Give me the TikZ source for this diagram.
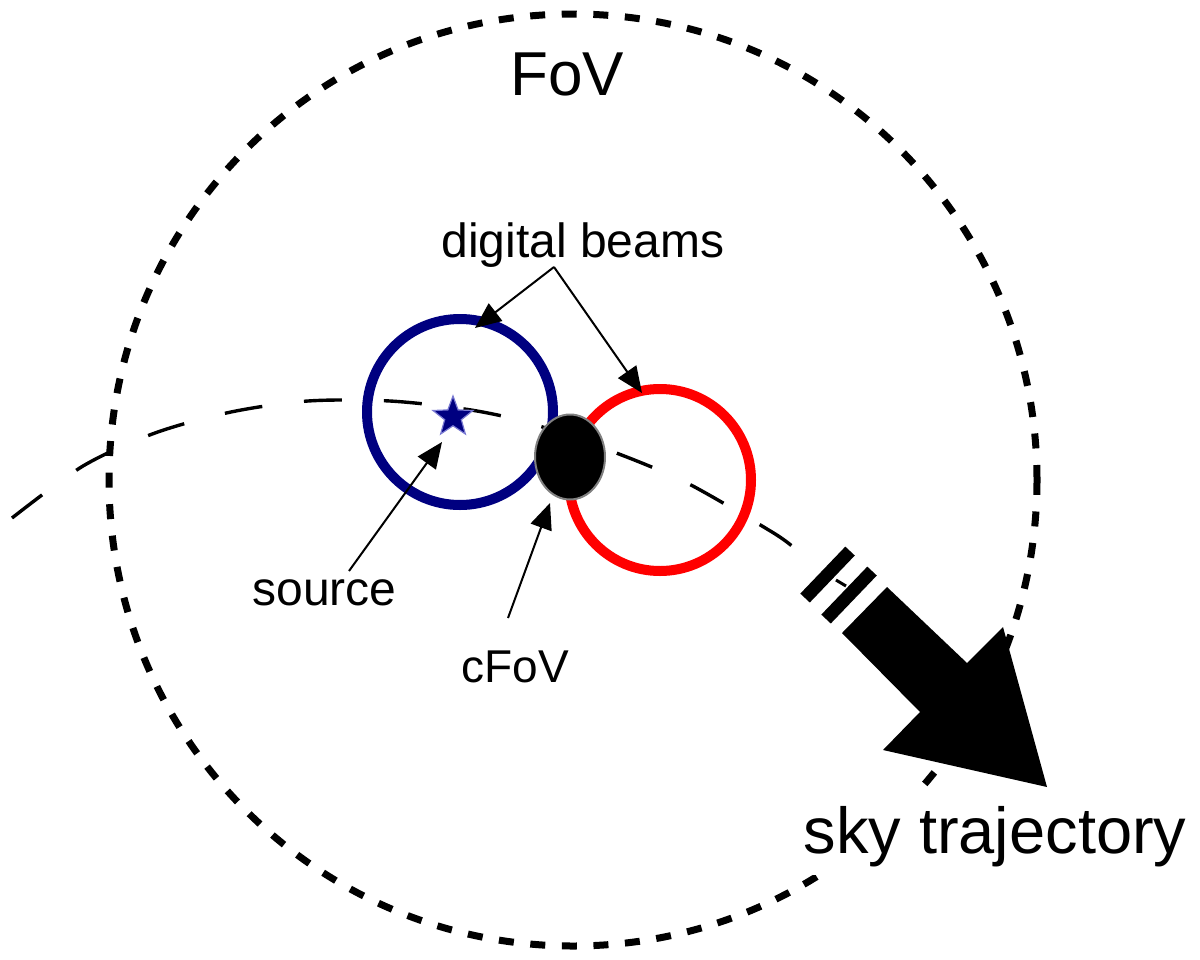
\documentclass[tikz,border=0pt]{standalone}
\usepackage{fontspec}
\setmainfont{Liberation Sans}
\usetikzlibrary{shapes.geometric,arrows.meta}
\definecolor{beamblue}{RGB}{0,0,128}
\definecolor{beamred}{RGB}{255,0,0}
\begin{document}
\begin{tikzpicture}[x=0.5pt,y=-0.5pt,
  lbl/.style={anchor=base, inner sep=0pt, text=black},
  annot/.style={draw=black, line width=1pt, -{Triangle[length=13pt,width=11pt]}},
  fovline/.style={draw=black, line width=3.5pt, dash pattern=on 7.5pt off 8.3pt},
  traj/.style={draw=black, line width=1.7pt, dash pattern=on 19pt off 21pt},
  beam/.style={circle, line width=5pt, inner sep=0pt, minimum size=#1},
  bigarrow/.style={fill=black}]
\useasboundingbox (0,0) rectangle (1200,959);

% sky trajectory (dashed curve)
\draw[traj] plot[smooth] coordinates {(12,518) (83,466) (155,433) (231,412) (308,401) (390,401) (471,410) (533,424) (619,454) (689,484) (772,532) (793,547)};

% field of view
\node[ellipse, fovline, inner sep=0pt, minimum width=464pt, minimum height=466pt] (fov) at (573,480) {};

% digital beams
\node[beam=93pt, draw=beamblue] (blue) at (460,412) {};
\node[beam=91pt, draw=beamred] (red) at (660,480) {};

% centre of FoV
\node[ellipse, fill=black, draw=gray, line width=1pt, inner sep=0pt, minimum width=35pt, minimum height=42.5pt] (cfov) at (570,457) {};

% source
\node[star, star points=5, star point ratio=2.4, fill=beamblue, draw=gray!50!blue!70, line width=0.6pt, inner sep=0pt, minimum size=21pt] (src) at (453,417) {};

% labels
\node[lbl, font=\fontsize{31}{36}\selectfont] (fovlbl) at (567,95) {FoV};
\node[lbl, font=\fontsize{24}{28}\selectfont] (dblbl) at (583,257) {digital beams};
\node[lbl, font=\fontsize{24}{28}\selectfont] (srclbl) at (324.5,605) {source};
\node[lbl, font=\fontsize{23}{27}\selectfont] (cfovlbl) at (515.5,682) {cFoV};
\node[lbl, fill=white, inner xsep=4pt, inner ysep=3pt, text height=30pt, text depth=8pt, font=\fontsize{32.5}{38}\selectfont] (skylbl) at (995,853) {sky trajectory};

% direction arrow with break marks
\fill[bigarrow] (800.3,593.6) -- (809.8,602.5) -- (854.8,555.5) -- (845.3,546.6) -- cycle;
\fill[bigarrow] (821.3,614.6) -- (830.8,623.5) -- (876.8,575.5) -- (867.3,566.6) -- cycle;
\draw[line width=1.5pt] (836,580) -- (846,586);
\fill[bigarrow] (887,587) -- (967,663) -- (1003,627) -- (1047,787) -- (883,750) -- (920,712) -- (842,633) -- cycle;

% annotation arrows
\coordinate (dbapex) at (554,267);
\coordinate (dbtipL) at (475,328);
\coordinate (dbtipR) at (642,393);
\coordinate (srcfoot) at (349,571);
\coordinate (srctip) at (442,442);
\coordinate (cfovfoot) at (508,618);
\coordinate (cfovtip) at (550,503);
\draw[annot] (dbapex) -- (dbtipL);
\draw[annot] (dbapex) -- (dbtipR);
\draw[annot] (srcfoot) -- (srctip);
\draw[annot] (cfovfoot) -- (cfovtip);
\end{tikzpicture}
\end{document}
